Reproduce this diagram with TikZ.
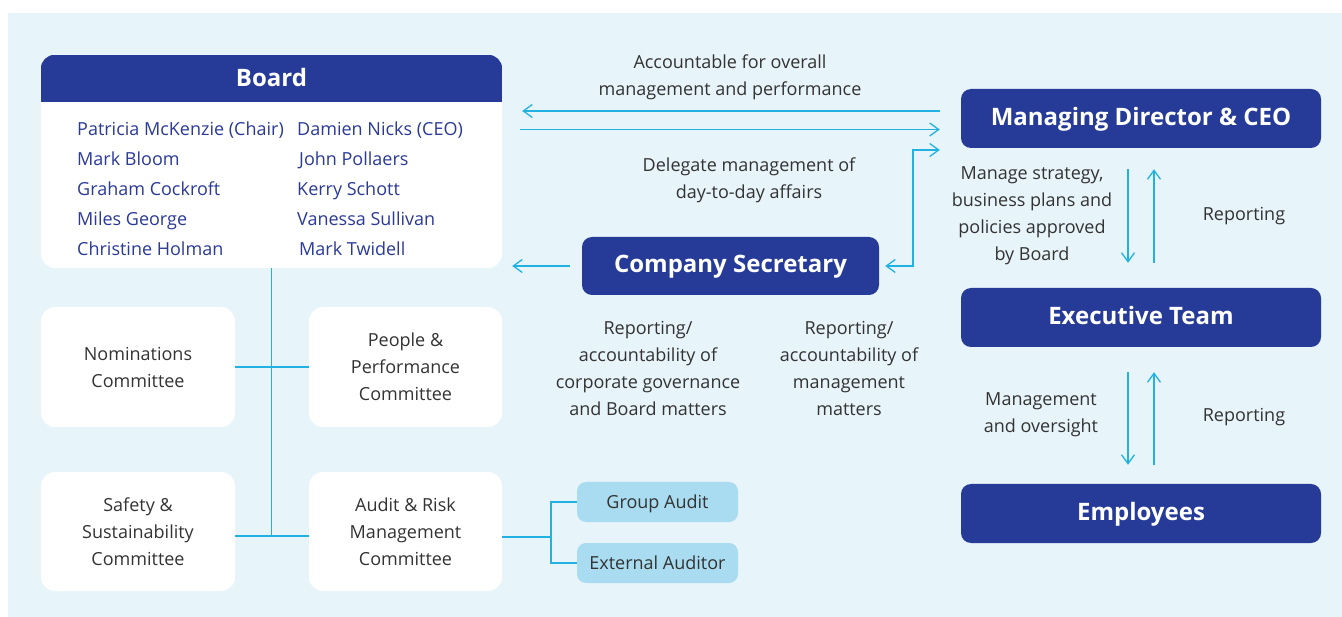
\documentclass[tikz,border=0pt]{standalone}
\usepackage{fontspec}
\setmainfont{Open Sans}
\usetikzlibrary{arrows.meta,calc}
\definecolor{bgc}{RGB}{231,244,250}
\definecolor{navy}{RGB}{38,59,151}
\definecolor{cyanl}{RGB}{34,178,226}
\definecolor{txt}{RGB}{51,51,51}
\definecolor{namec}{RGB}{43,58,151}
\definecolor{lightc}{RGB}{169,220,240}
\tikzset{
  navybox/.style={fill=navy, rounded corners=10pt, text=white, font=\fontsize{24}{28}\selectfont\bfseries, inner sep=0pt, text height=18pt, text depth=4.5pt},
  whitebox/.style={fill=white, rounded corners=14pt, text=txt, align=center, font=\fontsize{18}{27}\selectfont, inner sep=0pt},
  auditbox/.style={fill=lightc, rounded corners=9pt, text=txt, font=\fontsize{18}{22}\selectfont, inner sep=0pt, text height=12.5pt, text depth=0pt},
  lbl/.style={text=txt, align=center, font=\fontsize{18}{27}\selectfont, inner sep=0pt},
  namelbl/.style={text=namec, anchor=base west, font=\fontsize{18}{22}\selectfont, inner sep=0pt},
  conn/.style={draw=cyanl, line width=1.3pt},
  arr/.style={draw=cyanl, line width=1.3pt, -{Straight Barb[length=9pt,width=13pt]}},
  arrb/.style={draw=cyanl, line width=1.3pt, {Straight Barb[length=9pt,width=13pt]}-{Straight Barb[length=9pt,width=13pt]}}
}
\begin{document}
\begin{tikzpicture}[x=1pt,y=-1pt]
\useasboundingbox (0,0) rectangle (1342,617);
\fill[bgc] (8,13) rectangle (1342,617);

% Board
\node[fill=white, rounded corners=14pt, minimum width=461pt, minimum height=213pt, inner sep=0pt] (board) at (271.5,161.5) {};
\begin{scope}
  \clip[rounded corners=14pt] (board.north west) rectangle (board.south east);
  \fill[navy] (board.north west) rectangle (502,102);
\end{scope}
\node[text=white, font=\fontsize{24}{28}\selectfont\bfseries, inner sep=0pt, anchor=base] (boardhead) at (271.5,87) {Board};
\node[namelbl] (n1) at (77,135.5) {Patricia McKenzie (Chair)};
\node[namelbl] (n2) at (77,165.5) {Mark Bloom};
\node[namelbl] (n3) at (77,195.5) {Graham Cockroft};
\node[namelbl] (n4) at (77,225.5) {Miles George};
\node[namelbl] (n5) at (77,255.5) {Christine Holman};
\node[namelbl] (n6) at (297,135.5) {Damien Nicks (CEO)};
\node[namelbl] (n7) at (299,165.5) {John Pollaers};
\node[namelbl] (n8) at (297,195.5) {Kerry Schott};
\node[namelbl] (n9) at (297,225.5) {Vanessa Sullivan};
\node[namelbl] (n10) at (299,255.5) {Mark Twidell};

% Committees
\node[whitebox, minimum width=194pt, minimum height=120pt] (nom) at (138,367) {Nominations\\Committee};
\node[whitebox, minimum width=193pt, minimum height=120pt] (pp) at (405.5,367) {People \&\\Performance\\Committee};
\node[whitebox, minimum width=194pt, minimum height=119pt] (safe) at (138,531.5) {Safety \&\\Sustainability\\Committee};
\node[whitebox, minimum width=193pt, minimum height=119pt] (audit) at (405.5,531.5) {Audit \& Risk\\Management\\Committee};
\node[auditbox, minimum width=161pt, minimum height=40pt] (ga) at (657.5,502) {Group Audit};
\node[auditbox, minimum width=161pt, minimum height=40pt] (ea) at (657.5,563) {External Auditor};

% Right column
\node[navybox, minimum width=297pt, minimum height=58pt] (cs) at (730.5,266) {Company Secretary};
\node[navybox, minimum width=360pt, minimum height=59pt] (md) at (1141,118.5) {Managing Director \& CEO};
\node[navybox, minimum width=360pt, minimum height=59pt] (et) at (1141,317.5) {Executive Team};
\node[navybox, minimum width=360pt, minimum height=59pt] (emp) at (1141,513.5) {Employees};

% Labels
\node[lbl] (l1) at (730,77) {Accountable for overall\\management and performance};
\node[lbl] (l2) at (749,180) {Delegate management of\\day-to-day affairs};
\node[lbl] (l3) at (648,368) {Reporting/\\accountability of\\corporate governance\\and Board matters};
\node[lbl] (l4) at (849,368) {Reporting/\\accountability of\\management\\matters};
\node[lbl] (l5) at (1032,216) {Manage strategy,\\business plans and\\policies approved\\by Board};
\node[lbl] (l6) at (1244,216) {Reporting};
\node[lbl] (l7) at (1041,415) {Management\\and oversight};
\node[lbl] (l8) at (1244,417) {Reporting};

% Coordinates
\coordinate (j2) at (272,536);
\coordinate (ja) at (551,537);
\coordinate (y111) at (0,111);
\coordinate (y129) at (0,129.5);
\coordinate (e1) at (913,150);
\coordinate (c1) at (1128,0);
\coordinate (c2) at (1154,0);

% Board connectors
\draw[conn] (board.south) -- (board.south |- j2);
\draw[conn] (nom.east) -- (pp.west);
\draw[conn] (safe.east |- j2) -- (audit.west |- j2);
\draw[conn] (audit.east |- ja) -- (ja);
\draw[conn] (ga.west) -- (ga.west -| ja) -- (ea.west -| ja) -- (ea.west);

% Arrows
\draw[arr, shorten <=21pt, shorten >=20pt] (md.west |- y111) -- (board.east |- y111);
\draw[arr, shorten <=18pt, shorten >=21pt] (board.east |- y129) -- (md.west |- y129);
\draw[arrb, shorten <=6pt, shorten >=21pt] (cs.east) -| (e1) -- (md.west |- e1);
\draw[arr, shorten <=12pt, shorten >=10pt] (cs.west) -- (board.east |- cs.west);
\draw[arr, shorten <=21pt, shorten >=25pt] (md.south -| c1) -- (et.north -| c1);
\draw[arr, shorten <=25pt, shorten >=21pt] (et.north -| c2) -- (md.south -| c2);
\draw[arr, shorten <=25pt, shorten >=19pt] (et.south -| c1) -- (emp.north -| c1);
\draw[arr, shorten <=19pt, shorten >=25pt] (emp.north -| c2) -- (et.south -| c2);
\end{tikzpicture}
\end{document}
